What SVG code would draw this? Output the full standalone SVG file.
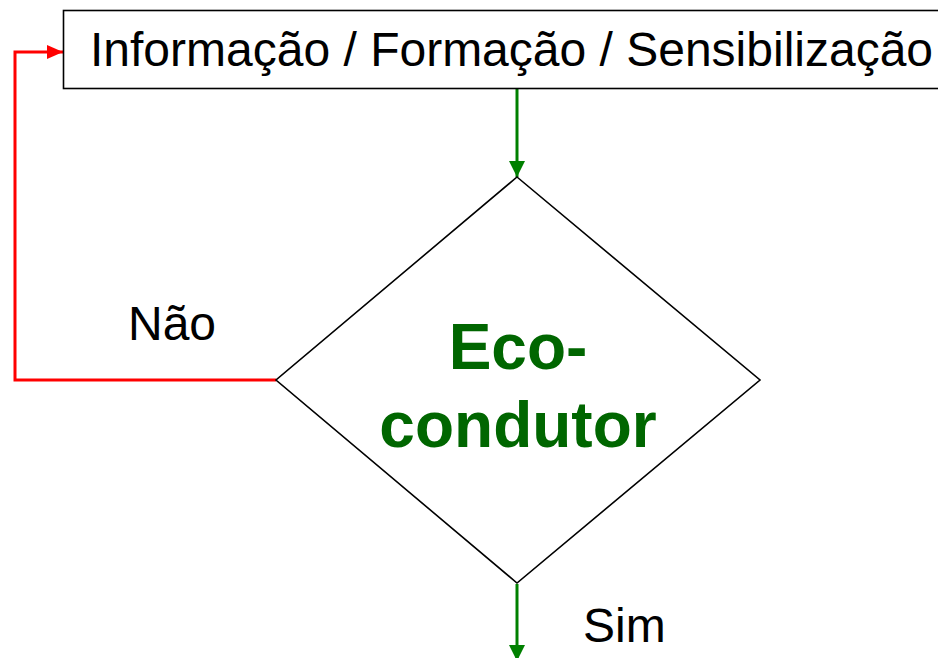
<svg xmlns="http://www.w3.org/2000/svg" width="938" height="658" viewBox="0 0 938 658">
<style>
.lbl{font-family:"Liberation Sans",Arial,sans-serif;font-size:48px;fill:#000}
.dec{font-family:"Liberation Sans",Arial,sans-serif;font-size:64px;font-weight:bold;fill:#006600;text-anchor:middle}
.shape{fill:#fff;stroke:#000;stroke-width:1.6}
.g{fill:none;stroke:#008000;stroke-width:3}
.r{fill:none;stroke:#ff0000;stroke-width:3}
</style>
<defs>
<marker id="ag" markerUnits="userSpaceOnUse" markerWidth="18" markerHeight="18" refX="16" refY="8" orient="auto"><path d="M0,0 L16,8 L0,16 Z" fill="#008000"/></marker>
<marker id="ar" markerUnits="userSpaceOnUse" markerWidth="18" markerHeight="16" refX="16" refY="7" orient="auto"><path d="M0,0 L16,7 L0,14 Z" fill="#ff0000"/></marker>
</defs>
<rect width="938" height="658" fill="#fff"/>
<g id="connectors">
<path class="r" d="M276,380 H15 V52 H63" marker-end="url(#ar)"/>
<path class="g" d="M517,86 V177" marker-end="url(#ag)"/>
<path class="g" d="M517,584 V661" marker-end="url(#ag)"/>
</g>
<g id="info">
<rect class="shape" x="63.5" y="10.5" width="880" height="78"/>
<text class="lbl" x="90" y="66">Informação / Formação / Sensibilização</text>
</g>
<g id="decision">
<path class="shape" d="M517,177 L760,380 L517,583 L276,380 Z"/>
<text class="dec" x="518" y="369">Eco-</text>
<text class="dec" x="518" y="447">condutor</text>
</g>
<g id="labels">
<text class="lbl" x="128" y="340">Não</text>
<text class="lbl" x="583" y="642">Sim</text>
</g>
</svg>
